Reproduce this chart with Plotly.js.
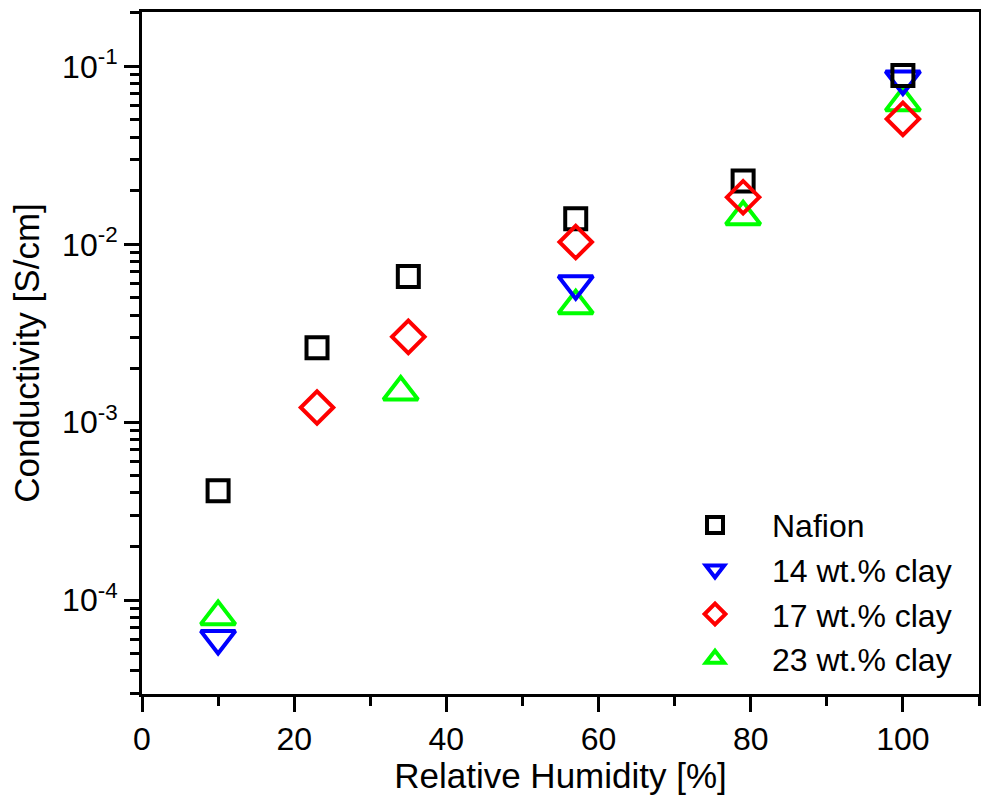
<!DOCTYPE html>
<html>
<head>
<meta charset="utf-8">
<script src="https://cdn.plot.ly/plotly-3.0.1.min.js"></script>
<style>html,body{margin:0;padding:0;background:#fff;}</style>
</head>
<body>
<div id="chart" style="width:981px;height:795px;"></div>
<script>
// Relative humidity [%] and conductivity [S/cm]
var rhNafion = [10, 23, 35, 57, 79, 100];
var sigmaNafion = [4.12e-4, 2.62e-3, 6.6e-3, 1.39e-2, 2.27e-2, 8.9e-2];

var rh14 = [10, 57, 100];
var sigma14 = [6.08e-5, 6.0e-3, 8.5e-2];

var rh17 = [23, 35, 57, 79, 100];
var sigma17 = [1.21e-3, 3.02e-3, 1.03e-2, 1.84e-2, 5.07e-2];

var rh23 = [10, 34, 57, 79, 100];
var sigma23 = [8.07e-5, 1.48e-3, 4.52e-3, 1.43e-2, 6.24e-2];

var seriesNames = ["Nafion", "14 wt.% clay", "17 wt.% clay", "23 wt.% clay"];
var yTickVals = [1e-4, 1e-3, 1e-2, 1e-1];
var yTickText = ["10<sup>-4</sup>", "10<sup>-3</sup>", "10<sup>-2</sup>", "10<sup>-1</sup>"];
var xTickVals = [0, 20, 40, 60, 80, 100];

var font = "Arial, 'Liberation Sans', sans-serif";

function tr(x, y, name, symbol, color, size, rank) {
  return {
    x: x, y: y, name: name, type: "scatter", mode: "markers",
    legendrank: rank,
    marker: {symbol: symbol, size: size, color: color,
             line: {color: color, width: 4}}
  };
}

var data = [
  tr(rh23, sigma23, seriesNames[3], "triangle-up-open", "#00ff00", 30, 4),
  tr(rh14, sigma14, seriesNames[1], "triangle-down-open", "#0000ff", 30, 2),
  tr(rhNafion, sigmaNafion, seriesNames[0], "square-open", "#000000", 21, 1),
  tr(rh17, sigma17, seriesNames[2], "diamond-open", "#ff0000", 25, 3)
];

var layout = {
  width: 981, height: 795,
  margin: {l: 142, r: 2, t: 12, b: 101},
  paper_bgcolor: "#fff", plot_bgcolor: "#fff",
  font: {family: font, color: "#000", size: 31},
  showlegend: true,
  legend: {
    x: 0.6165, y: 0.288, xanchor: "left", yanchor: "top",
    bgcolor: "rgba(0,0,0,0)", borderwidth: 0,
    font: {family: font, size: 32, color: "#000"},
    itemwidth: 104, tracegroupgap: 0
  },
  xaxis: {
    range: [0, 110], tickmode: "array", tickvals: xTickVals,
    ticks: "outside", ticklen: 15, tickwidth: 3, tickcolor: "#000",
    minor: {dtick: 10, tick0: 0, ticks: "outside", ticklen: 9, tickwidth: 3, tickcolor: "#000"},
    showline: true, linewidth: 3, linecolor: "#000", mirror: true,
    showgrid: false, zeroline: false,
    tickfont: {family: font, size: 32},
    title: {text: "Relative Humidity [%]", font: {family: font, size: 35}, standoff: 6}
  },
  yaxis: {
    type: "log", range: [-4.528, -0.694],
    tickmode: "array", tickvals: yTickVals, ticktext: yTickText,
    ticks: "outside", ticklen: 15, tickwidth: 3, tickcolor: "#000",
    minor: {dtick: "D1", ticks: "outside", ticklen: 9, tickwidth: 3, tickcolor: "#000"},
    showline: true, linewidth: 3, linecolor: "#000", mirror: true,
    showgrid: false, zeroline: false,
    tickfont: {family: font, size: 32},
    title: {text: "Conductivity [S/cm]", font: {family: font, size: 35}, standoff: 12}
  }
};

Plotly.newPlot("chart", data, layout, {displayModeBar: false, staticPlot: true});
</script>
</body>
</html>
